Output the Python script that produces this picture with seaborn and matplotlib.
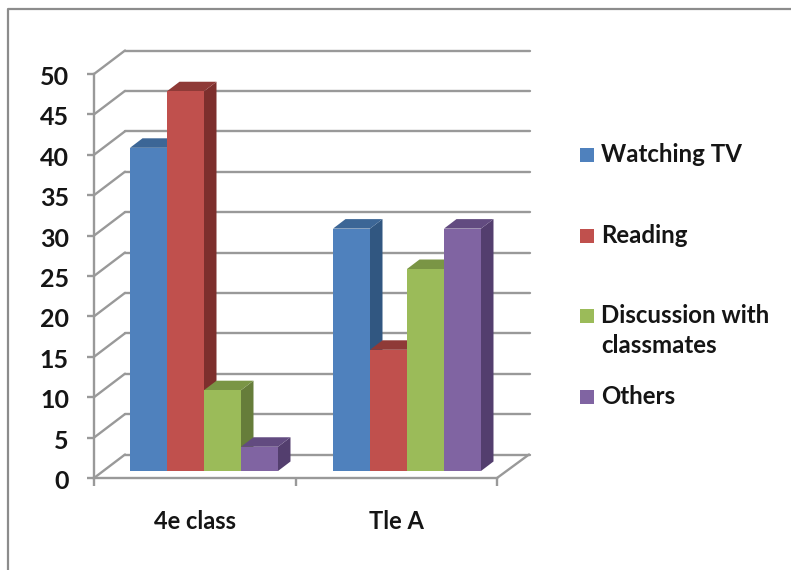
import matplotlib
matplotlib.use("Agg")
import matplotlib.pyplot as plt
from matplotlib.lines import Line2D
from matplotlib.patches import Polygon, Rectangle
from matplotlib.transforms import IdentityTransform, ScaledTranslation
import pandas as pd
import seaborn as sns

# Chart values
classes = ["4e class", "Tle A"]
activities = ["Watching TV", "Reading", "Discussion with\nclassmates", "Others"]
watching_tv = [40, 30]
reading = [47, 15]
discussion = [10, 25]
others = [3, 30]
y_ticks = list(range(0, 55, 5))

# Series colours: front, side and top faces
front_colors = ["#4F81BD", "#C0504D", "#9BBB59", "#8064A2"]
side_colors = ["#315781", "#7D2F2D", "#667D3A", "#533E6E"]
top_colors = ["#3C6696", "#8F3A37", "#7A9545", "#624B80"]
GRID = "#999999"
INK = "#151515"

sns.set_theme(style="white")
plt.rcParams["font.family"] = ["Lato", "DejaVu Sans"]
plt.rcParams["font.weight"] = "bold"

W, H = 791, 570
DPI = 100
fig = plt.figure(figsize=(W / DPI, H / DPI), dpi=DPI, facecolor="white")


def px_axes(left, right, top, bottom, **kw):
    return fig.add_axes([left / W, 1 - bottom / H, (right - left) / W, (bottom - top) / H], **kw)


# Front plane of the chart box: carries the axes, ticks and tick labels
frame = px_axes(94, 497, 74, 478)
frame.set_xlim(0, 2)
frame.set_ylim(0, 50)
frame.patch.set_visible(False)
sns.despine(ax=frame, top=True, right=True)
for side in ("left", "bottom"):
    frame.spines[side].set_color(GRID)
    frame.spines[side].set_linewidth(1.7)
frame.set_yticks(y_ticks)
frame.tick_params(axis="y", which="major", left=True, length=5, width=1.7, color=GRID, pad=13,
                  labelsize=18, labelcolor=INK)
frame.set_xticks([0, 1, 2])
frame.set_xticklabels([])
frame.set_xticks([0.5, 1.5], minor=True)
frame.set_xticklabels(classes, minor=True)
frame.tick_params(axis="x", which="major", bottom=True, length=6, width=1.7, color=GRID)
frame.tick_params(axis="x", which="minor", bottom=False, length=0, pad=23, labelsize=17, labelcolor=INK)

# Nudge the value labels down so the digits sit level with their ticks
nudge = ScaledTranslation(0, -1.5 / DPI, fig.dpi_scale_trans)
for label in frame.get_yticklabels():
    label.set_transform(label.get_transform() + nudge)

# Back wall and floor, shifted from the front plane by the box depth
back = frame.transData + ScaledTranslation(31 / DPI, 23.5 / DPI, fig.dpi_scale_trans)
for v in y_ticks:
    frame.plot([0, 2.01], [v, v], transform=back, color=GRID, lw=1.7, clip_on=False, zorder=1)
    x0, y0 = frame.transData.transform((0, v))
    fig.add_artist(Line2D([x0, x0 + 31], [y0, y0 + 23.5], color=GRID, lw=1.7, zorder=1,
                          transform=IdentityTransform()))
xr, yr = frame.transData.transform((2, 0))
fig.add_artist(Line2D([xr, xr + 32], [yr, yr + 23.5], color=GRID, lw=1.7, transform=IdentityTransform()))

# Bars, positioned midway through the box depth
ax = px_axes(102.5, 508.5, 67, 471)
ax.patch.set_visible(False)
df = pd.DataFrame({
    "group": classes * 4,
    "activity": [a for a in activities for _ in classes],
    "value": watching_tv + reading + discussion + others,
})
sns.barplot(data=df, x="group", y="value", hue="activity", hue_order=activities, palette=front_colors,
            saturation=1, width=0.729, gap=0, errorbar=None, legend=False, ax=ax)
ax.set_xlim(-0.5, 1.5)
ax.set_ylim(0, 50)
ax.axis("off")

# Extruded side and top faces for each bar
dx = 12.5 * 2 / 406
dy = 9.5 * 50 / 404
for i, container in enumerate(ax.containers):
    for bar in container:
        bar.set_linewidth(0)
        bar.set_zorder(3 + 2 * i)
        x, w, h = bar.get_x(), bar.get_width(), bar.get_height()
        r = x + w
        ax.add_patch(Polygon([(r, 0), (r + dx, dy), (r + dx, h + dy), (r, h)], closed=True,
                             fc=side_colors[i], ec="none", zorder=2 + 2 * i))
        ax.add_patch(Polygon([(x, h), (x + dx, h + dy), (r + dx, h + dy), (r, h)], closed=True,
                             fc=top_colors[i], ec="none", zorder=2 + 2 * i))

# Legend entries with their own vertical rhythm
legend_rows = [155, 235.5, 315.5, 396.5]
for label, color, row in zip(activities, front_colors, legend_rows):
    fig.add_artist(Rectangle((580 / W, 1 - (row + 7) / H), 14 / W, 14 / H, transform=fig.transFigure,
                             fc=color, ec="none"))
    fig.text(601 / W, 1 - (row - 11.5) / H, label, ha="left", va="top", fontsize=17.3,
             color=INK, linespacing=1.35)

# Outer chart border, running off the top and bottom of the canvas
border = Line2D([7.5 / W, 7.5 / W, 1], [0, 1 - 9 / H, 1 - 9 / H], transform=fig.transFigure,
                color="#8C8C8C", lw=1.6)
fig.add_artist(border)

fig.savefig("out.png", dpi=DPI, facecolor="white")
